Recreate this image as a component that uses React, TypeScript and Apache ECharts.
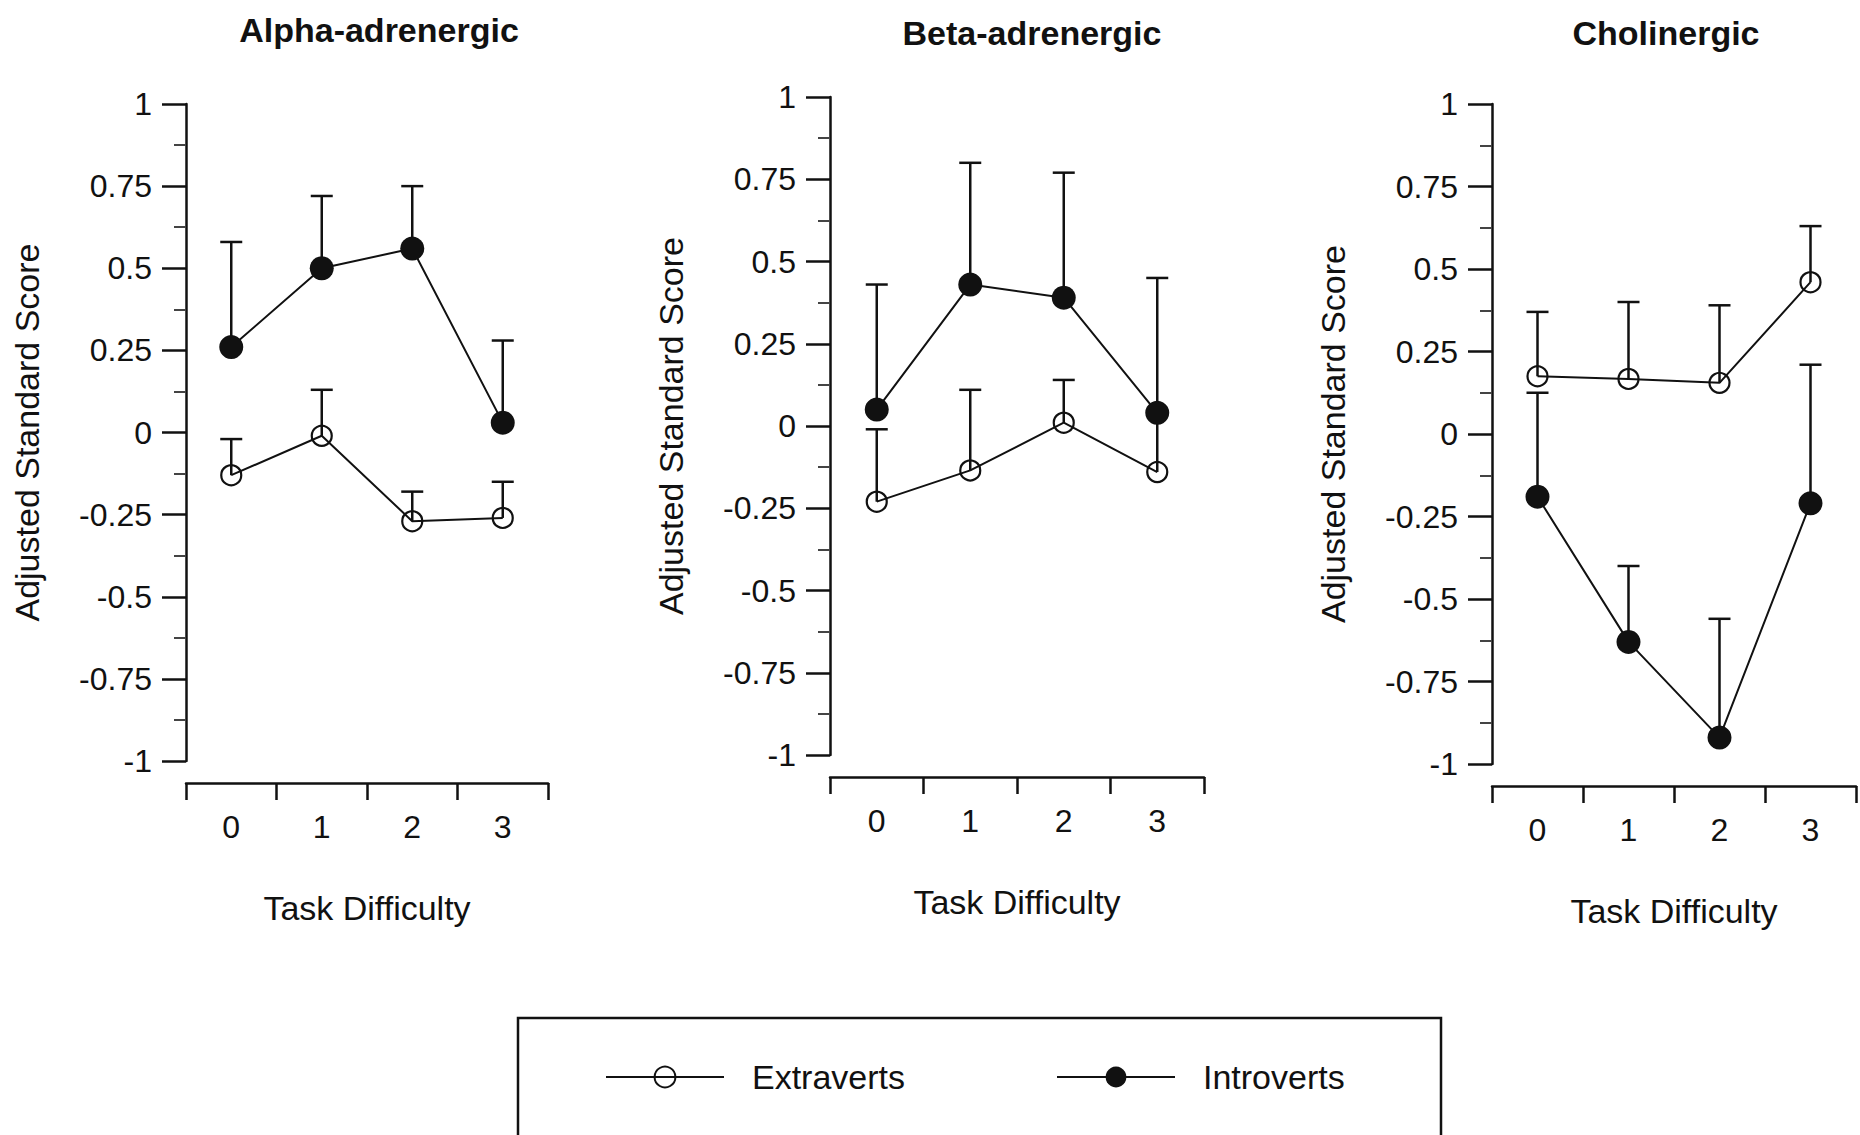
import React, { useEffect, useRef } from "react";
import * as echarts from "echarts";

const categories = ["0", "1", "2", "3"];
const panelTitles = ["Alpha-adrenergic", "Beta-adrenergic", "Cholinergic"];
const yTicks = [-1, -0.75, -0.5, -0.25, 0, 0.25, 0.5, 0.75, 1];

const alphaExtra = [-0.13, -0.01, -0.27, -0.26];
const alphaExtraTop = [-0.02, 0.13, -0.18, -0.15];
const alphaIntro = [0.26, 0.5, 0.56, 0.03];
const alphaIntroTop = [0.58, 0.72, 0.75, 0.28];

const betaExtra = [-0.23, -0.135, 0.01, -0.14];
const betaExtraTop = [-0.01, 0.11, 0.14, 0.04];
const betaIntro = [0.05, 0.43, 0.39, 0.04];
const betaIntroTop = [0.43, 0.8, 0.77, 0.45];

const cholExtra = [0.175, 0.167, 0.155, 0.46];
const cholExtraTop = [0.37, 0.4, 0.39, 0.63];
const cholIntro = [-0.19, -0.63, -0.92, -0.21];
const cholIntroTop = [0.125, -0.4, -0.56, 0.21];

const FONT = "'Liberation Sans', Arial, Helvetica, sans-serif";
const INK = "#111";

const panels = [
  { extra: alphaExtra, extraTop: alphaExtraTop, intro: alphaIntro, introTop: alphaIntroTop },
  { extra: betaExtra, extraTop: betaExtraTop, intro: betaIntro, introTop: betaIntroTop },
  { extra: cholExtra, extraTop: cholExtraTop, intro: cholIntro, introTop: cholIntroTop },
];

const grids = [
  { left: 186, top: 104, width: 362, height: 657 },
  { left: 830, top: 97, width: 374, height: 658 },
  { left: 1492, top: 104, width: 364, height: 660 },
];
const titlePos = [
  { x: 379, y: 13 },
  { x: 1032, y: 16 },
  { x: 1666, y: 16 },
];

function errorRender(params: any, api: any) {
  const x = api.value(0);
  const p0 = api.coord([x, api.value(1)]);
  const p1 = api.coord([x, api.value(2)]);
  const hw = 11;
  const style = { stroke: INK, lineWidth: 2.5 };
  return {
    type: "group",
    children: [
      { type: "line", shape: { x1: p0[0], y1: p0[1], x2: p1[0], y2: p1[1] }, style },
      { type: "line", shape: { x1: p1[0] - hw, y1: p1[1], x2: p1[0] + hw, y2: p1[1] }, style },
    ],
  };
}

function buildOption() {
  const xAxis: any[] = [];
  const yAxis: any[] = [];
  const series: any[] = [];
  panels.forEach((p, i) => {
    xAxis.push({
      type: "category",
      gridIndex: i,
      data: categories,
      boundaryGap: true,
      position: "bottom",
      offset: 22,
      name: "Task Difficulty",
      nameLocation: "middle",
      nameGap: 108,
      nameTextStyle: { fontFamily: FONT, fontSize: 34, color: INK },
      axisLine: { show: true, onZero: false, lineStyle: { color: INK, width: 2.5 } },
      axisTick: { show: true, length: 17, lineStyle: { color: INK, width: 2.5 } },
      axisLabel: { fontFamily: FONT, fontSize: 32, color: INK, margin: 28 },
      splitLine: { show: false },
    });
    yAxis.push({
      type: "value",
      gridIndex: i,
      min: yTicks[0],
      max: yTicks[yTicks.length - 1],
      interval: 0.25,
      name: "Adjusted Standard Score",
      nameLocation: "middle",
      nameGap: 142,
      nameTextStyle: { fontFamily: FONT, fontSize: 34, color: INK },
      axisLine: { show: true, onZero: false, lineStyle: { color: INK, width: 2.5 } },
      axisTick: { show: true, length: 24, lineStyle: { color: INK, width: 2.5 } },
      minorTick: { show: true, splitNumber: 2, length: 12, lineStyle: { color: "#444", width: 2 } },
      axisLabel: { fontFamily: FONT, fontSize: 32, color: INK, margin: 34 },
      splitLine: { show: false },
      minorSplitLine: { show: false },
    });
    series.push({
      type: "custom",
      name: "errExtra" + i,
      xAxisIndex: i,
      yAxisIndex: i,
      renderItem: errorRender,
      encode: { x: 0, y: [1, 2] },
      data: p.extra.map((v, k) => [k, v, p.extraTop[k]]),
      z: 1,
      silent: true,
    });
    series.push({
      type: "custom",
      name: "errIntro" + i,
      xAxisIndex: i,
      yAxisIndex: i,
      renderItem: errorRender,
      encode: { x: 0, y: [1, 2] },
      data: p.intro.map((v, k) => [k, v, p.introTop[k]]),
      z: 1,
      silent: true,
    });
    series.push({
      type: "line",
      name: "Extraverts",
      xAxisIndex: i,
      yAxisIndex: i,
      data: p.extra,
      symbol: "circle",
      symbolSize: 20,
      lineStyle: { color: INK, width: 2 },
      itemStyle: { color: "rgba(0,0,0,0)", borderColor: INK, borderWidth: 2.2 },
      z: 3,
    });
    series.push({
      type: "line",
      name: "Introverts",
      xAxisIndex: i,
      yAxisIndex: i,
      data: p.intro,
      symbol: "circle",
      symbolSize: 24,
      lineStyle: { color: INK, width: 2 },
      itemStyle: { color: INK, borderColor: INK, borderWidth: 0 },
      z: 4,
    });
  });

  const legendCommon = {
    orient: "horizontal",
    padding: 0,
    itemWidth: 118,
    itemHeight: 26,
    selectedMode: false,
    textStyle: { fontFamily: FONT, fontSize: 34, color: INK, padding: [0, 0, 0, 23] },
  };

  return {
    animation: false,
    backgroundColor: "#fff",
    title: panelTitles.map((t, i) => ({
      text: t,
      left: titlePos[i].x,
      top: titlePos[i].y,
      textAlign: "center",
      padding: 0,
      textStyle: { fontFamily: FONT, fontSize: 34, fontWeight: "bold", color: INK },
    })),
    grid: grids.map((g) => ({ ...g, containLabel: false })),
    xAxis,
    yAxis,
    series,
    legend: [
      { ...legendCommon, data: ["Extraverts"], left: 605, top: 1060 },
      { ...legendCommon, data: ["Introverts"], left: 1056, top: 1060 },
    ],
    graphic: [
      {
        type: "rect",
        shape: { x: 518, y: 1018, width: 923, height: 200 },
        style: { fill: "none", stroke: INK, lineWidth: 2.5 },
        z: -1,
      },
    ],
  };
}

export default function App() {
  const ref = useRef<HTMLDivElement>(null);
  useEffect(() => {
    if (!ref.current) return;
    const chart = echarts.init(ref.current, undefined, { renderer: "svg" });
    chart.setOption(buildOption() as any);
    return () => chart.dispose();
  }, []);
  return (
    <div
      ref={ref}
      style={{ position: "fixed", left: 0, top: 0, width: 1860, height: 1135, background: "#fff" }}
    />
  );
}
